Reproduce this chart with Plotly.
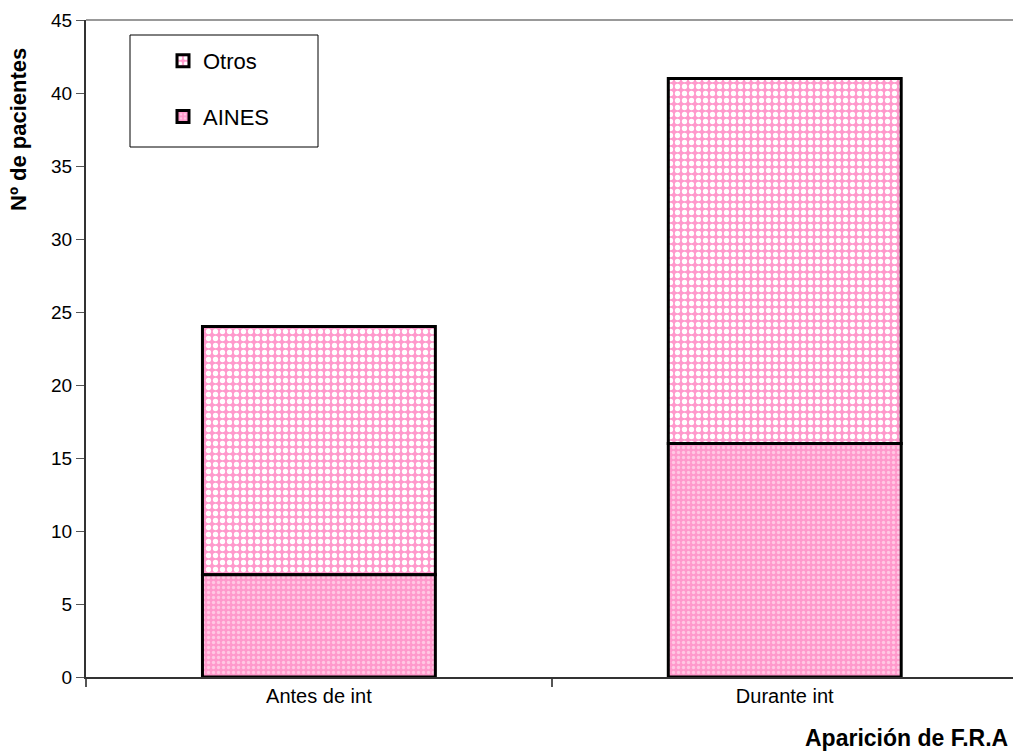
import plotly.graph_objects as go

# Data
categories = ["Antes de int", "Durante int"]
aines = [7, 16]
otros = [17, 25]
y_ticks = [0, 5, 10, 15, 20, 25, 30, 35, 40, 45]

PINK = "#FF99CC"

fig = go.Figure()
fig.add_trace(go.Bar(
    x=categories, y=otros, name="Otros", legendgroup="a",
    width=0.5, base=aines,
    marker=dict(
        line=dict(color="black", width=3),
        pattern=dict(shape=".", fillmode="replace", bgcolor=PINK,
                     fgcolor="white", size=7, solidity=0.45),
    ),
))
fig.add_trace(go.Bar(
    x=categories, y=aines, name="AINES", legendgroup="b",
    width=0.5,
    marker=dict(
        line=dict(color="black", width=3),
        pattern=dict(shape=".", fillmode="replace", bgcolor=PINK,
                     fgcolor="#FFC8E3", size=5, solidity=0.35),
    ),
))

fig.update_layout(
    width=1013, height=753,
    margin=dict(l=86, r=0, t=20, b=76),
    barmode="overlay",
    plot_bgcolor="white", paper_bgcolor="white",
    font=dict(family="Arial, Liberation Sans, sans-serif", color="black"),
    showlegend=True,
    legend=dict(
        x=(163 - 86) / 927, y=(677 - 40) / 657, xanchor="left", yanchor="top",
        traceorder="grouped", tracegroupgap=24,
        font=dict(size=22, color="black"),
        bgcolor="rgba(0,0,0,0)", borderwidth=0,
        itemwidth=30,
    ),
    xaxis=dict(
        type="category", range=[-0.5, 1.49],
        showline=True, linecolor="#333333", linewidth=2,
        ticks="outside", tickson="boundaries", ticklen=8,
        tickcolor="#555555", tickwidth=2,
        tickfont=dict(size=20), showgrid=False,
    ),
    yaxis=dict(
        range=[0, 45], tickvals=y_ticks,
        showline=True, linecolor="#333333", linewidth=2,
        ticks="outside", ticklen=8, tickcolor="#555555", tickwidth=1,
        tickfont=dict(size=19), showgrid=False, zeroline=False,
    ),
    shapes=[
        # top border of the plot area
        dict(type="line", xref="paper", yref="paper", x0=0, x1=1, y0=1, y1=1,
             line=dict(color="#999999", width=2)),
        # legend frame
        dict(type="rect", xref="paper", yref="paper",
             x0=(130 - 86) / 927, x1=(318 - 86) / 927,
             y0=(677 - 147) / 657, y1=(677 - 35) / 657,
             line=dict(color="black", width=1), fillcolor="rgba(0,0,0,0)"),
    ],
    annotations=[
        dict(text="<b>Aparición de F.R.A</b>", xref="paper", yref="paper",
             x=0.997, y=(677 - 738) / 657, xanchor="right", yanchor="middle",
             showarrow=False, font=dict(size=23, color="black")),
        dict(text="<b>Nº de pacientes</b>", xref="paper", yref="paper",
             x=(18 - 86) / 927, y=(677 - 130) / 657, xanchor="center",
             yanchor="middle", textangle=-90, showarrow=False,
             font=dict(size=22, color="black")),
    ],
)

fig.write_html("out.html")
